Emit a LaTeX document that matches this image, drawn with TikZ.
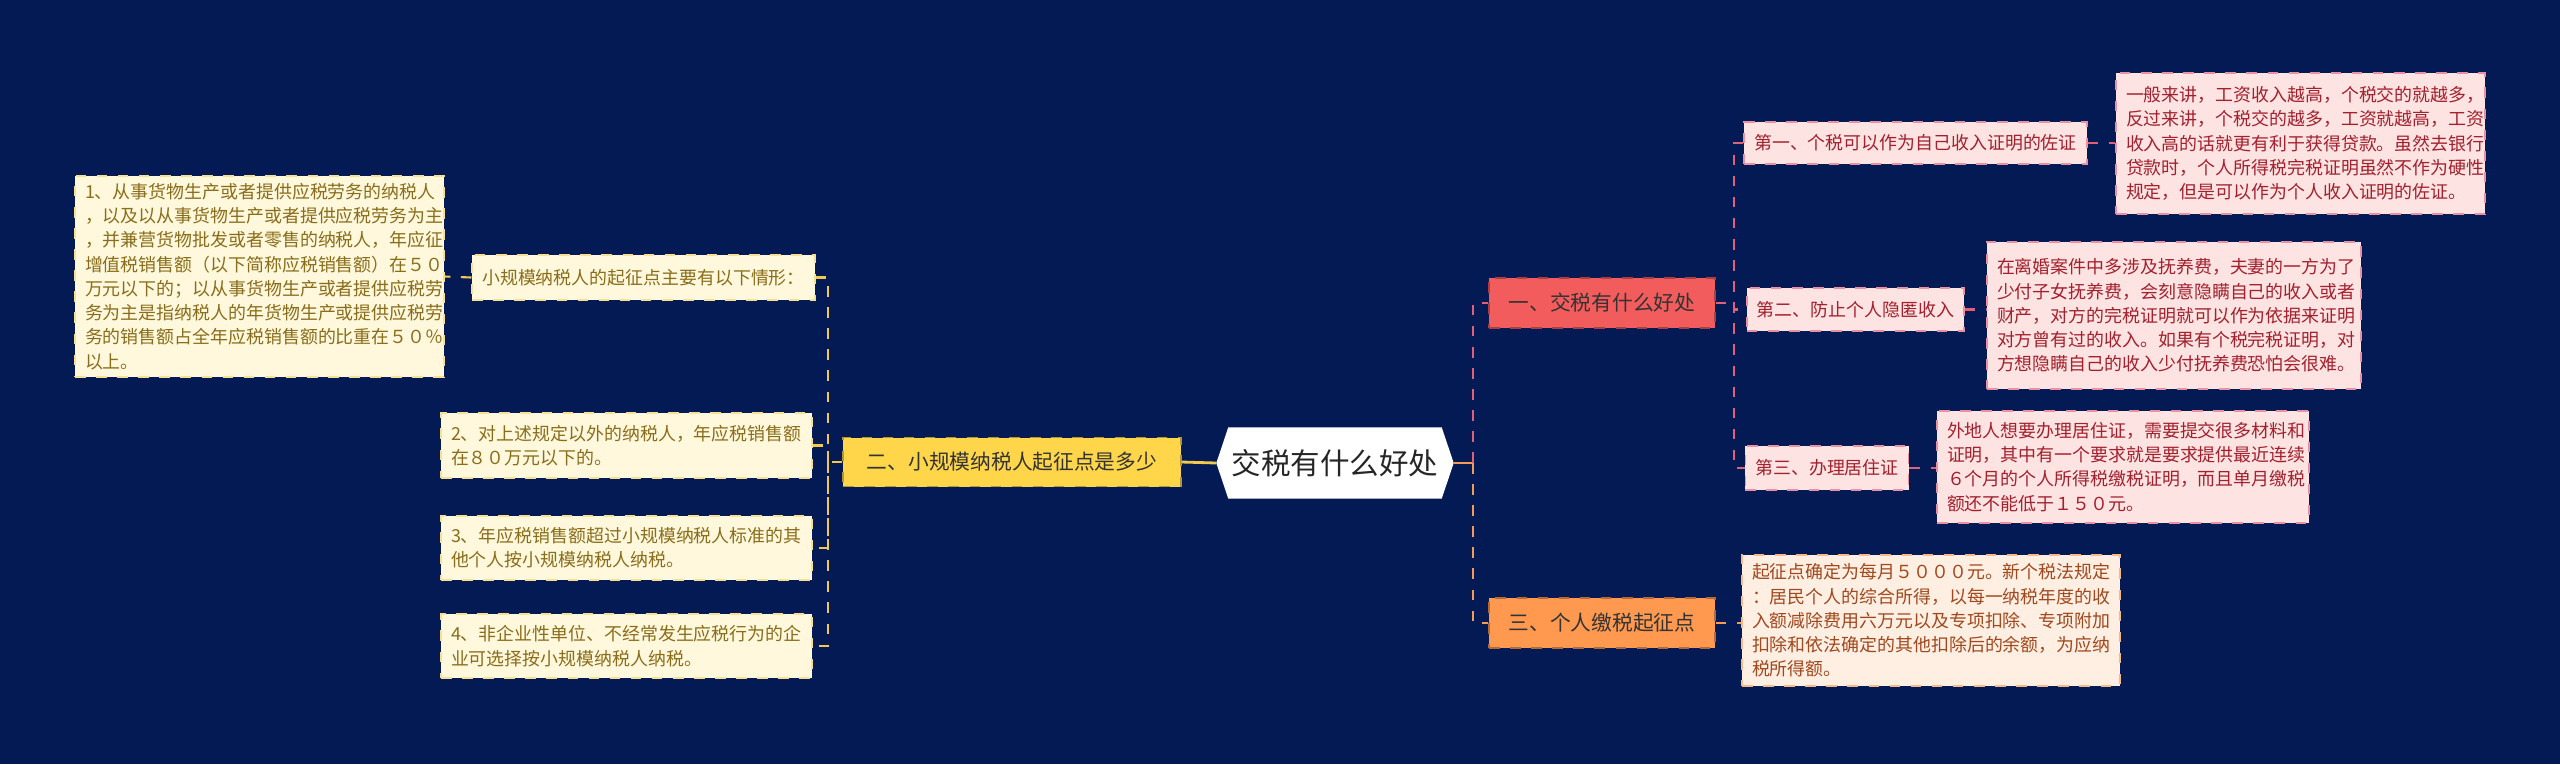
\documentclass[tikz,border=0pt]{standalone}
\usepackage{fontspec}
\setmainfont{Noto Sans CJK SC}
\begin{document}
\begin{tikzpicture}[
  bx/.style={minimum width=#1, inner xsep=0.1cm, inner ysep=0pt, align=left, anchor=center, dashed, line width=0.4pt},
  yel/.style={fill=yellowleaf, draw=yellowline!60, text=olivetext, font=\fontsize{5.1pt}{6.9pt}\selectfont},
  pnk/.style={fill=pinkleaf, draw=pinkline!70, text=redtext, font=\fontsize{5.1pt}{6.9pt}\selectfont},
  org/.style={fill=orangeleaf, draw=orangeline!70, text=browntext, font=\fontsize{5.1pt}{6.9pt}\selectfont},
  ylink/.style={draw=yellowline, dashed, line width=0.6pt},
  plink/.style={draw=pinkline, dashed, line width=0.6pt},
  olink/.style={draw=orangeline, dashed, line width=0.6pt},
]
\definecolor{bg}{HTML}{041A54}
\definecolor{yellowleaf}{HTML}{FFF8DC}
\definecolor{yellowline}{HTML}{F2C94C}
\definecolor{olivetext}{HTML}{8A6D1A}
\definecolor{pinkleaf}{HTML}{FDE3E1}
\definecolor{pinkline}{HTML}{E0607A}
\definecolor{redtext}{HTML}{A3202E}
\definecolor{orangeleaf}{HTML}{FFEFE2}
\definecolor{orangeline}{HTML}{F59B55}
\definecolor{browntext}{HTML}{A0481E}
\definecolor{redbranch}{HTML}{F25C5C}
\definecolor{orangebranch}{HTML}{FF9950}
\definecolor{yellowbranch}{HTML}{FFD54A}
\fill[bg] (0,0) rectangle (25.6,-7.64);
\useasboundingbox (0,0) rectangle (25.6,-7.64);

% root
\node[minimum width=2.36cm, minimum height=0.70cm, inner sep=0, font=\fontsize{8.4pt}{10pt}\selectfont, text=black!85] (root) at (13.35,-4.63) {交税有什么好处};
\begin{scope}[on background layer/.style={}]
\end{scope}
\fill[white] ([xshift=0.12cm]root.north west) -- ([xshift=-0.12cm]root.north east) -- (root.east) -- ([xshift=-0.12cm]root.south east) -- ([xshift=0.12cm]root.south west) -- (root.west) -- cycle;
\node[minimum width=2.36cm, minimum height=0.70cm, inner sep=0, font=\fontsize{8.4pt}{10pt}\selectfont, text=black!85] at (13.35,-4.63) {交税有什么好处};

% left branch
\node[bx=3.38cm, minimum height=0.49cm, fill=yellowbranch, draw=yellowbranch!70!black, text=black!80, font=\fontsize{5.9pt}{7pt}\selectfont, align=center] (L) at (10.12,-4.62) {二、小规模纳税人起征点是多少};
\node[bx=3.69cm, minimum height=2.01cm, yel, text width=3.49cm] (l1) at (2.595,-2.765) {1、从事货物生产或者提供应税劳务的纳税人\\，以及以从事货物生产或者提供应税劳务为主\\，并兼营货物批发或者零售的纳税人，年应征\\增值税销售额（以下简称应税销售额）在５０\\万元以下的；以从事货物生产或者提供应税劳\\务为主是指纳税人的年货物生产或提供应税劳\\务的销售额占全年应税销售额的比重在５０％\\以上。};
\node[bx=3.37cm, minimum height=0.45cm, yel, align=center] (s0) at (6.435,-2.775) {小规模纳税人的起征点主要有以下情形：};
\node[bx=3.71cm, minimum height=0.65cm, yel, text width=3.51cm] (l2) at (6.265,-4.455) {2、对上述规定以外的纳税人，年应税销售额\\在８０万元以下的。};
\node[bx=3.71cm, minimum height=0.64cm, yel, text width=3.51cm] (l3) at (6.265,-5.48) {3、年应税销售额超过小规模纳税人标准的其\\他个人按小规模纳税人纳税。};
\node[bx=3.71cm, minimum height=0.64cm, yel, text width=3.51cm] (l4) at (6.265,-6.46) {4、非企业性单位、不经常发生应税行为的企\\业可选择按小规模纳税人纳税。};

% right branches
\node[bx=2.26cm, minimum height=0.50cm, fill=redbranch, draw=redbranch!70!black, text=black!80, font=\fontsize{5.9pt}{7pt}\selectfont, align=center] (R1) at (16.02,-3.03) {一、交税有什么好处};
\node[bx=2.26cm, minimum height=0.50cm, fill=orangebranch, draw=orangebranch!70!black, text=black!80, font=\fontsize{5.9pt}{7pt}\selectfont, align=center] (R3) at (16.02,-6.23) {三、个人缴税起征点};
\node[bx=3.37cm, minimum height=0.42cm, pnk, align=center] (a1) at (19.155,-1.43) {第一、个税可以作为自己收入证明的佐证};
\node[bx=2.17cm, minimum height=0.43cm, pnk, align=center] (a2) at (18.555,-3.095) {第二、防止个人隐匿收入};
\node[bx=1.60cm, minimum height=0.44cm, pnk, align=center] (a3) at (18.27,-4.68) {第三、办理居住证};
\node[bx=3.69cm, minimum height=1.41cm, pnk, text width=3.49cm] (d1) at (23.005,-1.435) {一般来讲，工资收入越高，个税交的就越多，\\反过来讲，个税交的越多，工资就越高，工资\\收入高的话就更有利于获得贷款。虽然去银行\\贷款时，个人所得税完税证明虽然不作为硬性\\规定，但是可以作为个人收入证明的佐证。};
\node[bx=3.74cm, minimum height=1.47cm, pnk, text width=3.54cm] (d2) at (21.74,-3.155) {在离婚案件中多涉及抚养费，夫妻的一方为了\\少付子女抚养费，会刻意隐瞒自己的收入或者\\财产，对方的完税证明就可以作为依据来证明\\对方曾有过的收入。如果有个税完税证明，对\\方想隐瞒自己的收入少付抚养费恐怕会很难。};
\node[bx=3.72cm, minimum height=1.12cm, pnk, text width=3.52cm] (d3) at (21.23,-4.67) {外地人想要办理居住证，需要提交很多材料和\\证明，其中有一个要求就是要求提供最近连续\\６个月的个人所得税缴税证明，而且单月缴税\\额还不能低于１５０元。};
\node[bx=3.78cm, minimum height=1.31cm, org, text width=3.58cm] (d4) at (19.31,-6.205) {起征点确定为每月５０００元。新个税法规定\\：居民个人的综合所得，以每一纳税年度的收\\入额减除费用六万元以及专项扣除、专项附加\\扣除和依法确定的其他扣除后的余额，为应纳\\税所得额。};

% connectors
\draw[yellowline, line width=0.8pt] (root.west) -- (L.east);
\coordinate (lj) at (8.28,-4.62);
\draw[ylink] (L.west) -- (lj);
\draw[ylink] (s0.east) -| (lj) |- (l4.east);
\draw[ylink] (lj) |- (l2.east);
\draw[ylink] (lj) |- (l3.east);
\draw[ylink] (s0.west) -- (l1.east);

\coordinate (rj) at (14.73,-4.63);
\draw[orangeline, line width=0.8pt] (root.east) -- (rj);
\draw[plink] (rj) |- (R1.west);
\draw[olink] (rj) |- (R3.west);
\coordinate (aj) at (17.34,-3.03);
\draw[plink] (R1.east) -- (aj);
\draw[plink] (a1.west) -| (aj) |- (a3.west);
\draw[plink] (aj) |- (a2.west);
\draw[plink] (a1.east) -- (a1.east -| d1.west);
\draw[plink] (a2.east) -- (a2.east -| d2.west);
\draw[plink] (a3.east) -- (a3.east -| d3.west);
\draw[olink] (R3.east) -- (R3.east -| d4.west);
\end{tikzpicture}
\end{document}
